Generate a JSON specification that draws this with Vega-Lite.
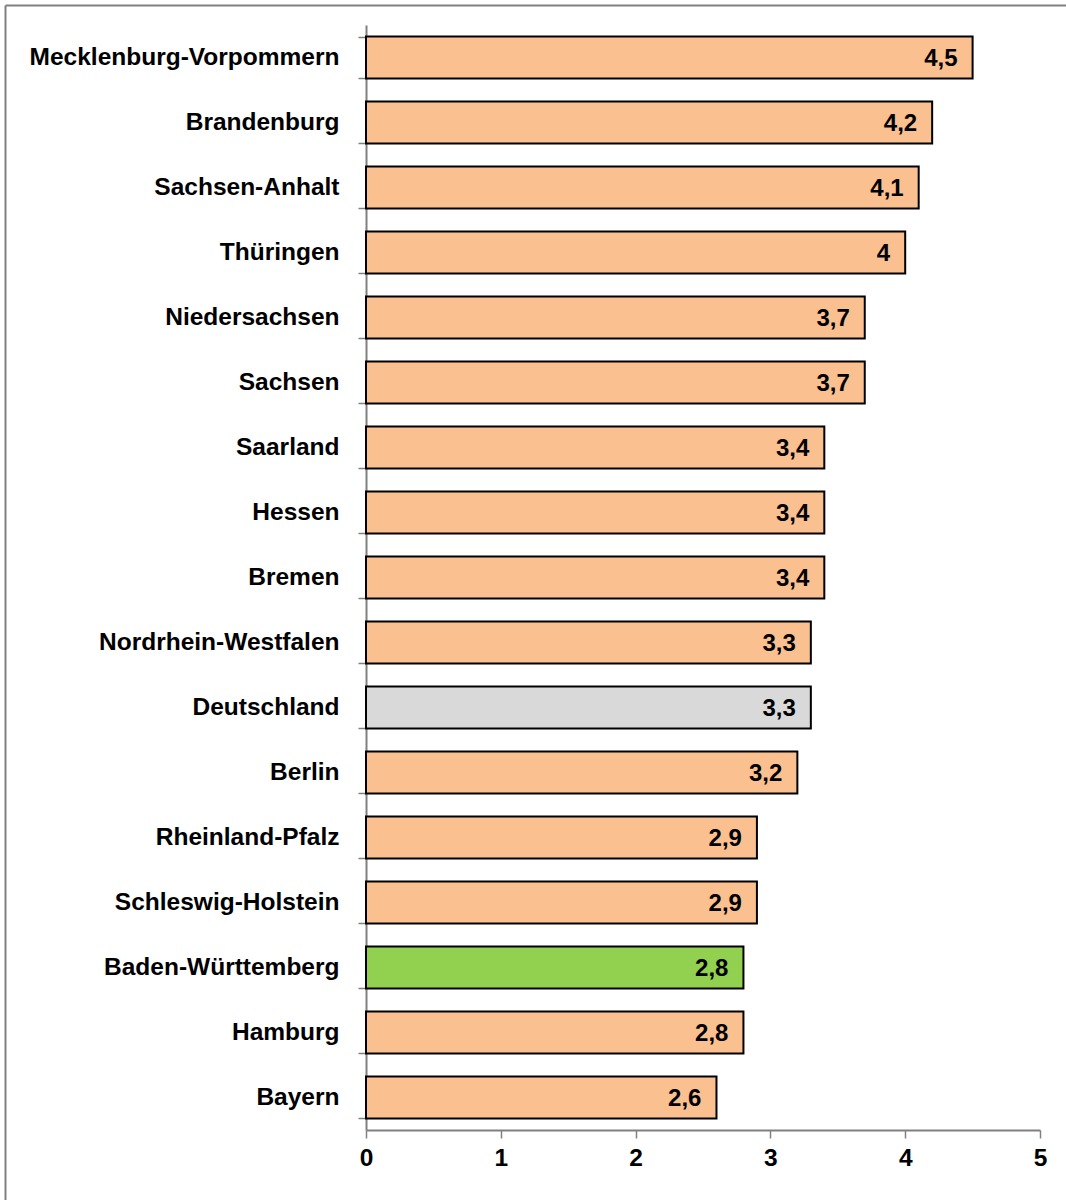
{
  "$schema": "https://vega.github.io/schema/vega-lite/v6.json",
  "width": 674,
  "height": 1105,
  "autosize": {"type": "none"},
  "padding": {"left": 366, "top": 25, "right": 26, "bottom": 70},
  "background": "white",
  "config": {
    "view": {"stroke": null},
    "font": "Liberation Sans",
    "locale": {"number": {"decimal": ",", "thousands": ".", "grouping": [3], "currency": ["", " €"]}}
  },
  "data": {
    "values": [
      {"land": "Mecklenburg-Vorpommern", "wert": 4.5, "gruppe": "Land"},
      {"land": "Brandenburg", "wert": 4.2, "gruppe": "Land"},
      {"land": "Sachsen-Anhalt", "wert": 4.1, "gruppe": "Land"},
      {"land": "Thüringen", "wert": 4.0, "gruppe": "Land"},
      {"land": "Niedersachsen", "wert": 3.7, "gruppe": "Land"},
      {"land": "Sachsen", "wert": 3.7, "gruppe": "Land"},
      {"land": "Saarland", "wert": 3.4, "gruppe": "Land"},
      {"land": "Hessen", "wert": 3.4, "gruppe": "Land"},
      {"land": "Bremen", "wert": 3.4, "gruppe": "Land"},
      {"land": "Nordrhein-Westfalen", "wert": 3.3, "gruppe": "Land"},
      {"land": "Deutschland", "wert": 3.3, "gruppe": "Deutschland"},
      {"land": "Berlin", "wert": 3.2, "gruppe": "Land"},
      {"land": "Rheinland-Pfalz", "wert": 2.9, "gruppe": "Land"},
      {"land": "Schleswig-Holstein", "wert": 2.9, "gruppe": "Land"},
      {"land": "Baden-Württemberg", "wert": 2.8, "gruppe": "BW"},
      {"land": "Hamburg", "wert": 2.8, "gruppe": "Land"},
      {"land": "Bayern", "wert": 2.6, "gruppe": "Land"}
    ]
  },
  "layer": [
    {
      "encoding": {
        "y": {
          "field": "land", "type": "nominal", "sort": null,
          "scale": {"paddingInner": 0.354, "paddingOuter": 0.177},
          "axis": {
            "title": null, "domainColor": "#808080", "domainWidth": 2,
            "tickColor": "#808080", "tickWidth": 1.5, "tickSize": 8, "tickBand": "extent",
            "labelFont": "Liberation Sans", "labelFontSize": 24.5, "labelFontWeight": "bold",
            "labelColor": "black", "labelPadding": 19, "labelLimit": 0
          }
        },
        "x": {
          "field": "wert", "type": "quantitative",
          "scale": {"domain": [0, 5], "nice": false},
          "axis": {
            "title": null, "values": [0, 1, 2, 3, 4, 5], "format": "d", "grid": false,
            "domainColor": "#808080", "domainWidth": 2,
            "tickColor": "#808080", "tickWidth": 1.5, "tickSize": 8,
            "labelFont": "Liberation Sans", "labelFontSize": 24.5, "labelFontWeight": "bold",
            "labelColor": "black", "labelPadding": 8, "labelFlush": false
          }
        }
      },
      "layer": [
        {
          "mark": {"type": "bar", "stroke": "black", "strokeWidth": 2},
          "encoding": {
            "color": {
              "field": "gruppe", "type": "nominal",
              "scale": {"domain": ["Land", "Deutschland", "BW"], "range": ["#FAC090", "#D9D9D9", "#92D050"]},
              "legend": null
            }
          }
        },
        {
          "mark": {"type": "text", "align": "right", "baseline": "middle", "dx": -15, "dy": 1,
                   "font": "Liberation Sans", "fontSize": 24, "fontWeight": "bold", "color": "black"},
          "encoding": {
            "text": {"field": "wert", "type": "quantitative", "format": ".1~f"}
          }
        }
      ]
    },
    {
      "mark": {"type": "point", "opacity": 0},
      "encoding": {
        "x": {
          "datum": 0, "type": "quantitative",
          "scale": {"domain": [0, 1], "range": [-361, 700]},
          "axis": {"orient": "top", "offset": 20, "title": null, "labels": false, "ticks": false, "grid": false,
                   "domainColor": "#808080", "domainWidth": 2}
        },
        "y": {
          "datum": 0, "type": "quantitative",
          "scale": {"domain": [0, 1], "range": [1220, -20]},
          "axis": {"orient": "left", "offset": 361, "title": null, "labels": false, "ticks": false, "grid": false,
                   "domainColor": "#808080", "domainWidth": 2}
        }
      }
    }
  ],
  "resolve": {
    "scale": {"x": "independent", "y": "independent"},
    "axis": {"x": "independent", "y": "independent"}
  }
}
